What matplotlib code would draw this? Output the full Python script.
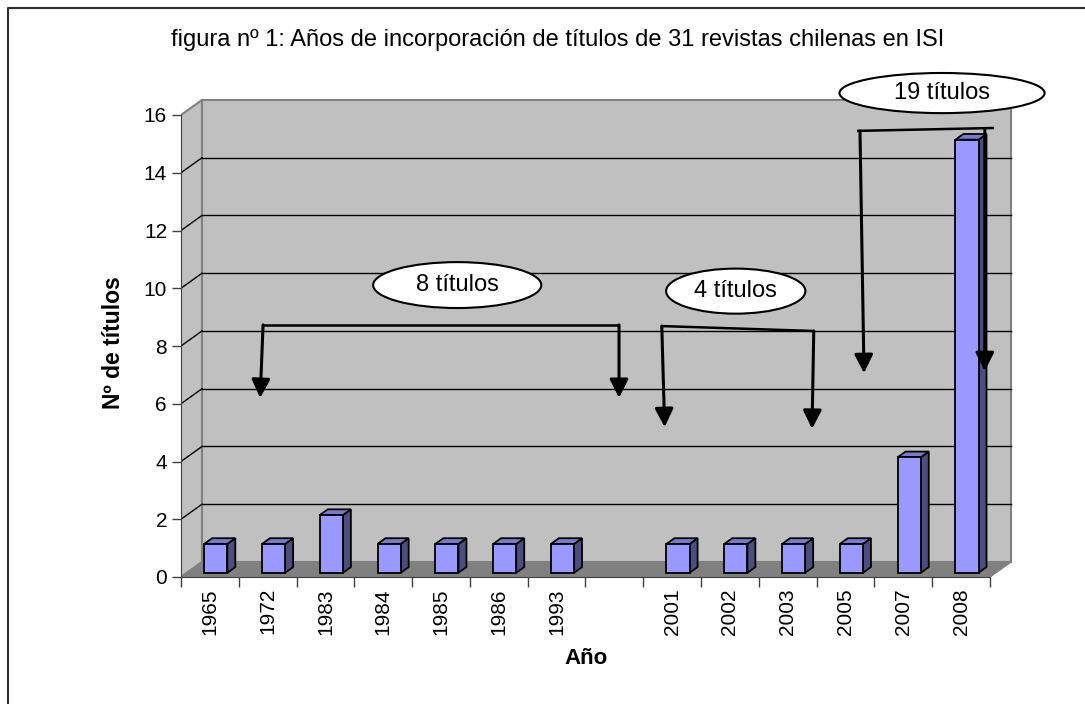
'''
Bar chart (Excel-style 3D look) of the years when 31 Chilean journals
entered ISI.
'''

import matplotlib
matplotlib.use('Agg')
from matplotlib import pyplot as plt
from matplotlib.patches import Polygon, Ellipse
from matplotlib.lines import Line2D

plt.rcParams['font.family'] = ['Liberation Sans', 'DejaVu Sans']

# data
years = ['1965', '1972', '1983', '1984', '1985', '1986', '1993', '',
         '2001', '2002', '2003', '2005', '2007', '2008']
counts = [1, 1, 2, 1, 1, 1, 1, 0, 1, 1, 1, 1, 4, 15]
y_ticks = [0, 2, 4, 6, 8, 10, 12, 14, 16]

title = ('figura nº 1: Años de incorporación de títulos de 31 revistas '
         'chilenas en ISI')
callout_labels = ['8 títulos', '4 títulos', '19 títulos']

# 3D look (in data units)
DX, DY = 0.363, 0.52
BAR_W = 0.4
F0, F1 = 0.28, 0.66
WALL = '#C0C0C0'
FLOOR = '#808080'
EDGE = '#808080'
FRONT = '#9999FF'
SIDE = '#4D4D80'
TOP = '#7A7ACC'

# callout ellipses: centre x, centre y, width, height
ellipses = [(4.78, 10.11, 2.91, 1.59),
            (9.60, 9.90, 2.41, 1.56),
            (13.17, 16.76, 3.55, 1.39)]
# bracket lines and arrows
brackets = [((1.42, 8.73), (7.58, 8.73)),
            ((8.32, 8.69), (10.95, 8.52)),
            ((11.70, 15.45), (14.07, 15.55))]
arrows = [((1.42, 8.73), (1.37, 6.2)),
          ((7.58, 8.73), (7.58, 6.2)),
          ((8.32, 8.69), (8.37, 5.19)),
          ((10.95, 8.52), (10.92, 5.13)),
          ((11.75, 15.45), (11.82, 7.06)),
          ((13.91, 15.51), (13.91, 7.13))]


def main():
    fig = plt.figure(figsize=(10.85, 7.04), dpi=100)
    W, H = 1085.0, 704.0
    n = len(years)
    ymax = y_ticks[-1]
    sx = 809.0 / n
    sy = 462.0 / ymax
    xlim, ylim = 15.2, 17.6
    ax = fig.add_axes([181 / W, (H - 577) / H, xlim * sx / W,
                       ylim * sy / H])
    ax.set_xlim(0, xlim)
    ax.set_ylim(0, ylim)
    ax.patch.set_visible(False)

    # walls and floor
    ax.add_patch(Polygon([(DX, DY), (n + DX, DY), (n + DX, ymax + DY),
                          (DX, ymax + DY)], closed=True, facecolor=WALL,
                         edgecolor=EDGE, lw=1.5, zorder=1))
    ax.add_patch(Polygon([(0, 0), (DX, DY), (DX, ymax + DY), (0, ymax)],
                         closed=True, facecolor=WALL, edgecolor=EDGE,
                         lw=1.5, zorder=1))
    ax.add_patch(Polygon([(0, 0), (n, 0), (n + DX, DY), (DX, DY)],
                         closed=True, facecolor=FLOOR, edgecolor=EDGE,
                         lw=1, zorder=1))
    for t in y_ticks[1:-1]:
        ax.plot([DX, n + DX], [t + DY, t + DY], color='black', lw=1,
                zorder=2)
        ax.plot([0, DX], [t, t + DY], color='black', lw=1, zorder=2)

    # bars
    for i, v in enumerate(counts):
        if v == 0:
            continue
        x0 = i + 0.5 - BAR_W / 2
        x1 = x0 + BAR_W
        front = [(x0 + F0 * DX, F0 * DY), (x1 + F0 * DX, F0 * DY),
                 (x1 + F0 * DX, v + F0 * DY), (x0 + F0 * DX, v + F0 * DY)]
        side = [(x1 + F0 * DX, F0 * DY), (x1 + F1 * DX, F1 * DY),
                (x1 + F1 * DX, v + F1 * DY), (x1 + F0 * DX, v + F0 * DY)]
        top = [(x0 + F0 * DX, v + F0 * DY), (x1 + F0 * DX, v + F0 * DY),
               (x1 + F1 * DX, v + F1 * DY), (x0 + F1 * DX, v + F1 * DY)]
        for pts, c in ((side, SIDE), (top, TOP), (front, FRONT)):
            ax.add_patch(Polygon(pts, closed=True, facecolor=c,
                                 edgecolor='black', lw=1.3, zorder=3))

    # axes
    for s in ('top', 'right'):
        ax.spines[s].set_visible(False)
    ax.spines['left'].set_bounds(0, ymax)
    ax.spines['bottom'].set_bounds(0, n)
    ax.spines['left'].set_color('#404040')
    ax.spines['bottom'].set_color('#404040')
    ax.spines['left'].set_zorder(4)
    ax.spines['bottom'].set_zorder(4)
    ax.set_yticks(y_ticks)
    ax.set_yticklabels([str(t) for t in y_ticks], fontsize=15)
    ax.tick_params(axis='y', length=6.5, width=1, color='#404040', pad=3.5)
    ax.set_xticks(range(n + 1))
    ax.set_xticklabels([])
    ax.set_xticks([i + 0.5 for i in range(n)], minor=True)
    ax.set_xticklabels(years, minor=True, rotation=90, fontsize=15)
    ax.tick_params(axis='x', which='major', length=7, width=1,
                   color='#404040')
    ax.tick_params(axis='x', which='minor', length=0, pad=8)

    # callouts
    for (cx, cy, w, h), label in zip(ellipses, callout_labels):
        ax.add_patch(Ellipse((cx, cy), w, h, facecolor='white',
                             edgecolor='black', lw=1.5, zorder=5,
                             clip_on=False))
        ax.text(cx, cy, label, ha='center', va='center', fontsize=17,
                zorder=6)
    for a, b in brackets:
        ax.plot([a[0], b[0]], [a[1], b[1]], color='black', lw=1.8,
                zorder=5, solid_capstyle='butt')
    for a, b in arrows:
        ax.annotate('', xy=b, xytext=a, zorder=5,
                    arrowprops=dict(arrowstyle='-|>', color='black',
                                    lw=2.2, mutation_scale=28,
                                    shrinkA=0, shrinkB=0))

    # texts
    fig.text(558 / W, 1 - 40 / H, title, ha='center', va='center',
             fontsize=17)
    fig.text(113 / W, 1 - 343 / H, 'Nº de títulos', rotation=90,
             ha='center', va='center', fontsize=16.5, fontweight='bold')
    fig.text(586 / W, 1 - 659 / H, 'Año', ha='center', va='center',
             fontsize=16, fontweight='bold')

    # frame (right and bottom sides are cut off)
    fig.add_artist(Line2D([8 / W, 8 / W, 1], [0, 1 - 8 / H, 1 - 8 / H],
                          transform=fig.transFigure, color='#303030',
                          lw=1.5))

    fig.savefig('out.png', dpi=100)


if __name__ == "__main__":
    main()
